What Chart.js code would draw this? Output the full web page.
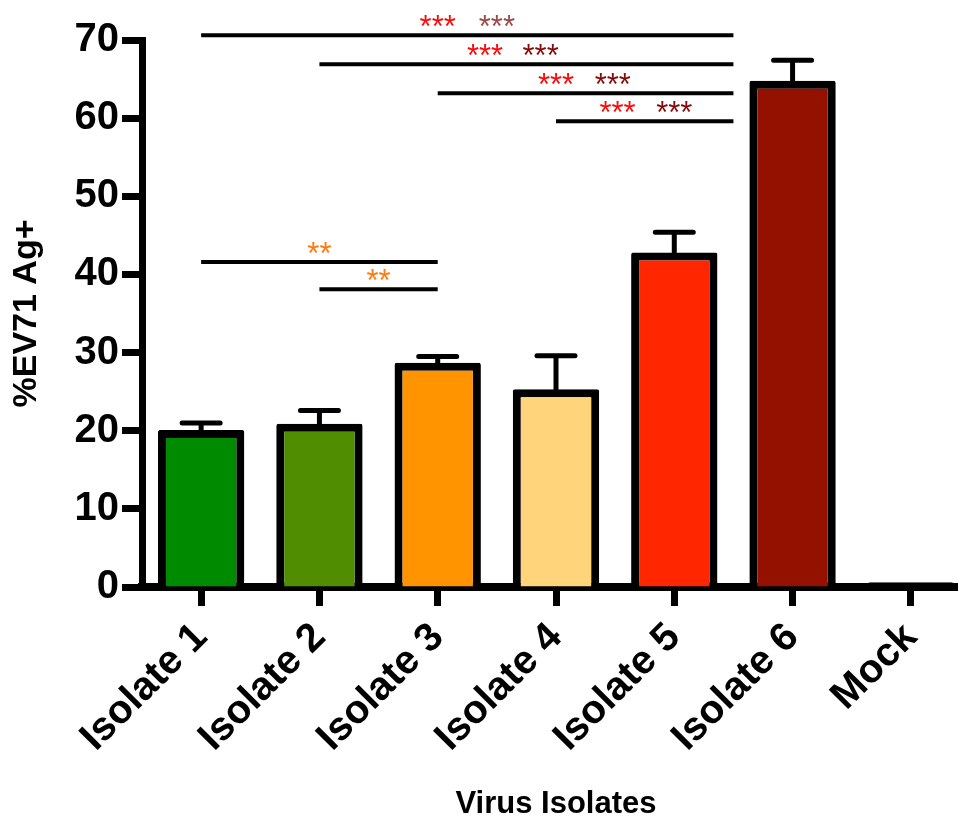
<!DOCTYPE html>
<html>
<head>
<meta charset="utf-8">
<script src="https://cdn.jsdelivr.net/npm/chart.js@4"></script>
<style>
  body { margin: 0; background: #fff; overflow: hidden; }
  #wrap { width: 958px; height: 819px; overflow: hidden; }
</style>
</head>
<body>
<div id="wrap"><canvas id="barChart" width="970" height="819"></canvas></div>
<script>
// ---------------- Data ----------------
const categories = ["Isolate 1", "Isolate 2", "Isolate 3", "Isolate 4", "Isolate 5", "Isolate 6", "Mock"];
const meanValues = [20.1, 20.9, 28.7, 25.3, 42.8, 64.8, 0.6];
const errValues = [0.9, 1.7, 0.8, 4.3, 2.6, 2.6, 0];
const yTickValues = [0, 10, 20, 30, 40, 50, 60, 70];

// significance brackets (category index from/to, height in %)
const sigFrom = [0, 1, 2, 3, 0, 1];
const sigTo = [4.5, 4.5, 4.5, 4.5, 2, 2];
const sigLevel = [70.6, 66.9, 63.2, 59.6, 41.6, 38.1];
const sigStars = [["***", "***"], ["***", "***"], ["***", "***"], ["***", "***"], ["**"], ["**"]];
const sigStarAt = [[2, 2.5], [2.4, 2.87], [3, 3.48], [3.52, 4], [1], [1.5]];

// ---------------- Styles ----------------
const barColors = ["#008a00", "#508d00", "#ff9400", "#ffd47a", "#ff2600", "#941100", "#000000"];
const starColors = [["#ff0a0a", "#9b4a47"], ["#ff0a0a", "#850b0b"], ["#ff0a0a", "#850b0b"], ["#ff0a0a", "#850b0b"], ["#ff7a10"], ["#ff7a10"]];
const FONT = "'Liberation Sans', Arial, Helvetica, sans-serif";

// error bars + significance lines
const extrasPlugin = {
  id: "extras",
  afterDatasetsDraw(chart) {
    const ctx = chart.ctx;
    const xs = chart.scales.x, ys = chart.scales.y;
    ctx.save();
    ctx.strokeStyle = "#000";
    ctx.lineCap = "round";
    ctx.lineWidth = 5;
    meanValues.forEach((v, i) => {
      if (!errValues[i]) return;
      const x = xs.getPixelForValue(i);
      const y0 = ys.getPixelForValue(v);
      const y1 = ys.getPixelForValue(v + errValues[i]);
      ctx.beginPath();
      ctx.moveTo(x, y0);
      ctx.lineTo(x, y1);
      ctx.moveTo(x - 19, y1);
      ctx.lineTo(x + 19, y1);
      ctx.stroke();
    });
    ctx.restore();
  },
  afterDraw(chart) {
    const ctx = chart.ctx;
    const xs = chart.scales.x, ys = chart.scales.y;
    ctx.save();
    ctx.strokeStyle = "#000";
    ctx.lineWidth = 4;
    ctx.lineCap = "butt";
    ctx.font = "31px " + FONT;
    ctx.textAlign = "center";
    ctx.textBaseline = "alphabetic";
    sigLevel.forEach((lvl, k) => {
      const y = ys.getPixelForValue(lvl);
      ctx.beginPath();
      ctx.moveTo(xs.getPixelForValue(sigFrom[k]), y);
      ctx.lineTo(xs.getPixelForValue(sigTo[k]), y);
      ctx.stroke();
      sigStars[k].forEach((s, j) => {
        ctx.fillStyle = starColors[k][j];
        ctx.fillText(s, xs.getPixelForValue(sigStarAt[k][j]), y + 2);
      });
    });
    ctx.restore();
  }
};

document.addEventListener("DOMContentLoaded", () => {
  const ctx = document.getElementById("barChart").getContext("2d");
  new Chart(ctx, {
    type: "bar",
    data: {
      labels: categories,
      datasets: [{
        data: meanValues,
        backgroundColor: barColors,
        borderColor: "#000",
        borderWidth: 8,
        borderRadius: 2,
        barPercentage: 0.73,
        categoryPercentage: 1
      }]
    },
    options: {
      responsive: false,
      animation: false,
      layout: { padding: { top: 40, left: 0, right: 0, bottom: 0 } },
      plugins: { legend: { display: false }, tooltip: { enabled: false } },
      scales: {
        x: {
          afterFit(scale) { scale.height = 232; },
          grid: { drawOnChartArea: false, drawTicks: true, tickLength: 19, tickWidth: 7, tickColor: "#000", offset: false },
          border: { display: true, color: "#000", width: 8 },
          ticks: {
            color: "#000",
            font: { family: FONT, size: 40, weight: "bold" },
            minRotation: 45, maxRotation: 45, padding: 8
          },
          title: {
            display: true, text: "Virus Isolates", color: "#000",
            font: { family: FONT, size: 31, weight: "bold" },
            padding: { top: 0, bottom: -4 }
          }
        },
        y: {
          min: 0, max: 70,
          afterFit(scale) { scale.width = 142; },
          afterBuildTicks(scale) { scale.ticks = yTickValues.map(v => ({ value: v })); },
          grid: { drawOnChartArea: false, drawTicks: true, tickLength: 20, tickWidth: 7, tickColor: "#000" },
          border: { display: true, color: "#000", width: 7 },
          ticks: {
            color: "#000",
            font: { family: FONT, size: 40, weight: "bold" },
            padding: 3
          },
          title: {
            display: true, text: "%EV71 Ag+", color: "#000",
            font: { family: FONT, size: 34, weight: "bold" },
            padding: { top: 6, bottom: 0 }
          }
        }
      }
    },
    plugins: [extrasPlugin]
  });
});
</script>
</body>
</html>
